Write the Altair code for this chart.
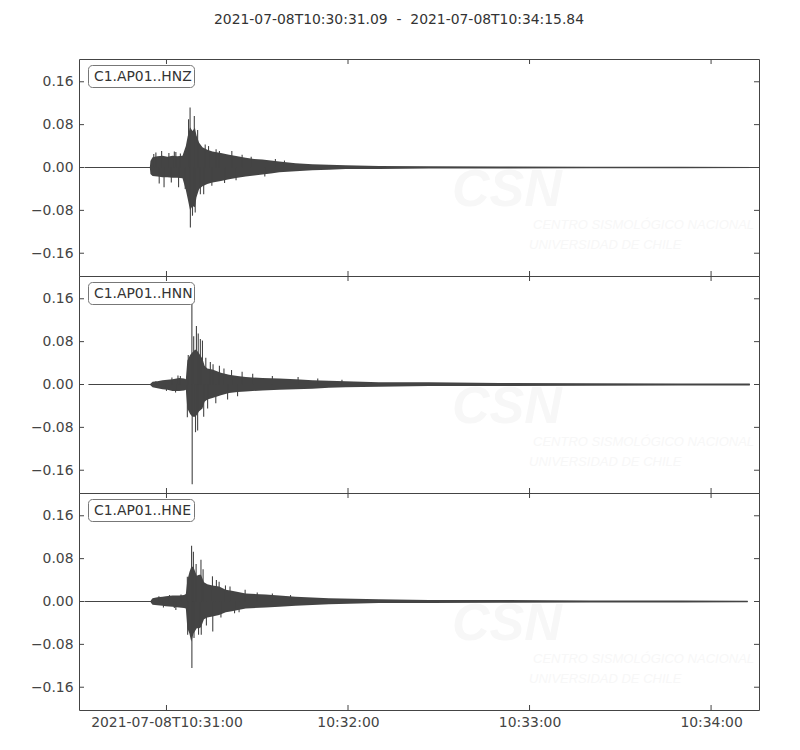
import altair as alt
import pandas as pd

# ---------------- data ----------------
TITLE = "2021-07-08T10:30:31.09\u00a0\u00a0-\u00a0\u00a02021-07-08T10:34:15.84"
BASE_TIME = "2021-07-08T10:30:00Z"          # all times below: seconds after this
X_START, X_END = 31.09, 255.84
X_TICKS = [60, 120, 180, 240]
Y_TICKS = [-0.16, -0.08, 0.0, 0.08, 0.16]
Y_MAX = 0.2025

CHANNELS = ["C1.AP01..HNZ", "C1.AP01..HNN", "C1.AP01..HNE"]
TRACE_START = [32.9, 34.2, 32.9]
TRACE_END = [255.4, 252.8, 252.1]

HNZ_T = [54.5, 54.7, 55.4, 57.0, 58.7, 60.3, 62.0, 63.6, 65.3, 66.4, 67.0, 67.8, 68.6, 69.4, 69.9, 70.8, 71.9,
         73.5, 75.2, 78.0, 80.7, 83.5, 86.2, 89.0, 91.7, 94.5, 97.3, 102.7, 108.2, 113.7, 119.2, 130.2, 146.7,
         170.0, 200.0, 230.0, 255.4]
HNZ_UP = [0.0, 0.012, 0.019, 0.021, 0.022, 0.020, 0.022, 0.021, 0.022, 0.040, 0.058, 0.075, 0.068, 0.074, 0.060,
          0.046, 0.038, 0.033, 0.030, 0.027, 0.024, 0.021, 0.018, 0.016, 0.015, 0.013, 0.011, 0.008, 0.006, 0.005,
          0.004, 0.003, 0.0025, 0.002, 0.0015, 0.0013, 0.001]
HNZ_LO = [0.0, -0.012, -0.016, -0.017, -0.018, -0.018, -0.019, -0.019, -0.020, -0.042, -0.058, -0.080, -0.072,
          -0.074, -0.056, -0.040, -0.035, -0.031, -0.028, -0.025, -0.022, -0.019, -0.017, -0.015, -0.013, -0.011,
          -0.009, -0.007, -0.005, -0.004, -0.003, -0.003, -0.002, -0.002, -0.0015, -0.0013, -0.001]
HNZ_SPIKE_T = [55.8, 56.5, 57.6, 58.4, 59.2, 60.8, 61.6, 62.6, 63.1, 64.0, 64.6, 66.2, 67.3, 67.8, 67.9, 68.6,
               69.2, 69.5, 70.3, 71.2, 72.3, 72.8, 73.9, 75.0, 76.4, 77.5, 79.2, 81.6, 83.0, 85.0, 88.0, 92.5,
               96.0, 99.0]
HNZ_SPIKE_V = [0.025, 0.028, -0.030, 0.031, -0.037, 0.027, -0.028, 0.030, 0.029, -0.037, 0.026, -0.040, 0.090,
               0.112, -0.112, -0.090, 0.096, -0.084, 0.070, -0.050, -0.050, 0.043, 0.040, -0.034, 0.034, 0.031,
               -0.029, 0.031, -0.024, 0.024, 0.020, -0.017, 0.016, 0.013]

HNN_T = [54.6, 55.4, 57.0, 58.7, 60.3, 62.0, 64.2, 65.8, 66.4, 66.9, 67.8, 68.6, 69.4, 69.9, 70.8, 71.9,
         72.6, 73.5, 75.2, 78.0, 80.7, 83.5, 86.2, 91.7, 97.3, 102.7, 108.2, 113.7, 119.2, 130.2, 146.7, 170.0,
         200.0, 230.0, 252.8]
HNN_UP = [0.001, 0.005, 0.006, 0.008, 0.009, 0.010, 0.012, 0.011, 0.010, 0.045, 0.055, 0.060, 0.065, 0.065,
          0.058, 0.048, 0.035, 0.030, 0.028, 0.022, 0.018, 0.016, 0.014, 0.012, 0.011, 0.010, 0.008, 0.007,
          0.006, 0.004, 0.004, 0.003, 0.0025, 0.002, 0.002]
HNN_LO = [-0.001, -0.005, -0.007, -0.009, -0.010, -0.012, -0.012, -0.011, -0.010, -0.045, -0.055, -0.060,
          -0.060, -0.058, -0.050, -0.045, -0.032, -0.028, -0.025, -0.020, -0.016, -0.014, -0.013, -0.011, -0.010,
          -0.009, -0.008, -0.006, -0.005, -0.004, -0.003, -0.003, -0.0025, -0.002, -0.002]
HNN_SPIKE_T = [56.5, 60.0, 61.8, 63.0, 63.8, 64.6, 66.9, 67.2, 68.4, 68.5, 69.0, 69.6, 69.9, 70.3, 70.5, 71.2,
               71.9, 72.3, 73.0, 73.6, 74.5, 75.4, 76.3, 77.5, 79.0, 80.2, 81.5, 83.5, 85.0, 88.5, 95.0, 103.5,
               110.0, 118.0]
HNN_SPIKE_V = [0.006, -0.012, 0.013, -0.015, 0.017, 0.016, -0.061, 0.055, 0.185, -0.186, 0.090, -0.089, 0.109,
               -0.086, 0.095, 0.085, 0.082, -0.060, 0.050, -0.045, 0.042, 0.038, -0.035, 0.035, 0.030, -0.028,
               0.027, -0.022, 0.024, 0.020, 0.016, 0.014, 0.011, 0.009]

HNE_T = [54.8, 55.4, 57.0, 58.7, 59.8, 62.0, 64.2, 65.8, 66.4, 66.9, 67.6, 68.2, 68.9, 70.0, 70.8, 71.4,
         72.4, 73.5, 75.2, 77.4, 79.6, 81.6, 86.2, 92.8, 97.3, 102.7, 113.7, 130.2, 146.7, 170.0, 200.0, 230.0,
         252.1]
HNE_UP = [0.002, 0.006, 0.008, 0.009, 0.010, 0.011, 0.011, 0.012, 0.014, 0.040, 0.055, 0.065, 0.065, 0.048,
          0.050, 0.050, 0.036, 0.032, 0.030, 0.028, 0.022, 0.020, 0.015, 0.013, 0.011, 0.009, 0.006, 0.004,
          0.003, 0.003, 0.002, 0.0018, 0.0015]
HNE_LO = [-0.002, -0.006, -0.007, -0.008, -0.009, -0.010, -0.011, -0.012, -0.013, -0.050, -0.060, -0.075,
          -0.060, -0.050, -0.050, -0.048, -0.033, -0.030, -0.028, -0.025, -0.020, -0.018, -0.013, -0.011, -0.010,
          -0.008, -0.005, -0.003, -0.003, -0.0025, -0.002, -0.0018, -0.0015]
HNE_SPIKE_T = [57.5, 59.0, 61.0, 62.6, 63.1, 64.8, 66.9, 67.0, 68.3, 68.4, 68.9, 69.1, 69.8, 70.6, 71.4, 71.5,
               72.1, 73.2, 75.2, 75.3, 76.5, 77.4, 78.0, 79.5, 81.0, 82.5, 84.0, 86.0, 90.0, 95.0, 101.0]
HNE_SPIKE_V = [0.010, -0.011, 0.012, -0.012, -0.016, 0.013, 0.046, -0.062, 0.104, -0.124, 0.093, -0.068, 0.070,
               -0.062, 0.078, -0.062, 0.060, -0.045, 0.047, -0.056, 0.040, 0.037, -0.030, 0.030, 0.028, -0.022,
               -0.020, 0.022, 0.017, 0.015, 0.012]

ENVELOPES = [(HNZ_T, HNZ_UP, HNZ_LO), (HNN_T, HNN_UP, HNN_LO), (HNE_T, HNE_UP, HNE_LO)]
SPIKES = [(HNZ_SPIKE_T, HNZ_SPIKE_V), (HNN_SPIKE_T, HNN_SPIKE_V), (HNE_SPIKE_T, HNE_SPIKE_V)]

# ---------------- styling ----------------
W, H = 680, 217
FONT = "DejaVu Sans"
FS = 13.9
INK = "#444444"
TRACE = "#444444"
WATER = "#f7f7f7"

BASE_MS = int(pd.Timestamp(BASE_TIME).value // 10**6)


def ms(sec):
    return BASE_MS + sec * 1000.0


xscale = alt.Scale(type="utc", domain=[ms(X_START), ms(X_END)], nice=False)
yscale = alt.Scale(domain=[-Y_MAX, Y_MAX], nice=False, zero=False)


def x_axis(show):
    if not show:
        return None
    return alt.Axis(
        values=[ms(v) for v in X_TICKS], ticks=False, domain=False, grid=False, title=None,
        labelPadding=5, labelFont=FONT, labelFontSize=FS, labelColor=INK, labelOverlap=False,
        labelFlush=False,
        labelExpr="datum.index == 0 ? utcFormat(datum.value, '%Y-%m-%dT%H:%M:%S') : utcFormat(datum.value, '%H:%M:%S')",
    )


y_axis = alt.Axis(values=Y_TICKS, format=".2f", ticks=False, domain=False, grid=False, title=None,
                  labelPadding=6, labelFont=FONT, labelFontSize=FS, labelColor=INK, labelFlush=False)


def panel(i, bottom, top):
    xa = x_axis(bottom)
    T, UP, LO = ENVELOPES[i]
    env = pd.DataFrame({"t": [ms(v) for v in T], "up": UP, "lo": LO})
    st, sv = SPIKES[i]
    spk = pd.DataFrame({"t": [ms(v) for v in st], "v": sv, "z": [0.0] * len(st)})
    base = pd.DataFrame({"ts": [ms(TRACE_START[i])], "te": [ms(TRACE_END[i])], "z": [0.0]})
    xt = pd.DataFrame({"t": [ms(v) for v in X_TICKS]})
    yt = pd.DataFrame({"v": Y_TICKS})
    lab = pd.DataFrame({"label": [CHANNELS[i]]})

    X = lambda f: alt.X(f, type="temporal", scale=xscale, axis=xa)
    Y = lambda f: alt.Y(f, type="quantitative", scale=yscale, axis=y_axis)

    layers = []
    # faint watermark
    wm = pd.DataFrame({"a": ["CSN"]})
    layers.append(alt.Chart(wm).mark_text(text="CSN", font="Liberation Sans", fontWeight="bold", fontStyle="italic",
                                          fontSize=52, color=WATER, align="left", baseline="alphabetic", clip=True)
                  .encode(x=alt.value(373), y=alt.value(147)))
    layers.append(alt.Chart(wm).mark_text(text="CENTRO SISMOLÓGICO NACIONAL", font="Liberation Sans",
                                          fontStyle="italic", fontSize=13, color=WATER, align="left",
                                          baseline="alphabetic", clip=True)
                  .encode(x=alt.value(454), y=alt.value(170)))
    layers.append(alt.Chart(wm).mark_text(text="UNIVERSIDAD DE CHILE", font="Liberation Sans",
                                          fontStyle="italic", fontSize=13, color=WATER, align="left",
                                          baseline="alphabetic", clip=True)
                  .encode(x=alt.value(450), y=alt.value(190)))
    # zero line of the trace
    layers.append(alt.Chart(base).mark_rule(color=TRACE, strokeWidth=1.2)
                  .encode(x=X("ts"), x2="te", y=Y("z")))
    # dense envelope of the trace
    layers.append(alt.Chart(env).mark_area(color=TRACE, opacity=1, interpolate="linear")
                  .encode(x=X("t"), y=Y("up"), y2="lo"))
    # individual peaks
    layers.append(alt.Chart(spk).mark_rule(color=TRACE, strokeWidth=1.1)
                  .encode(x=X("t"), y=Y("z"), y2="v"))
    # inward ticks
    layers.append(alt.Chart(xt).mark_rule(color=INK, strokeWidth=1)
                  .encode(x=X("t"), y=alt.value(0), y2=alt.value(5)))
    layers.append(alt.Chart(xt).mark_rule(color=INK, strokeWidth=1)
                  .encode(x=X("t"), y=alt.value(H - 5), y2=alt.value(H)))
    layers.append(alt.Chart(yt).mark_rule(color=INK, strokeWidth=1)
                  .encode(y=Y("v"), x=alt.value(0), x2=alt.value(5)))
    layers.append(alt.Chart(yt).mark_rule(color=INK, strokeWidth=1)
                  .encode(y=Y("v"), x=alt.value(W - 5), x2=alt.value(W)))
    # channel label box
    layers.append(alt.Chart(lab).mark_rect(fill="white", stroke="#777777", strokeWidth=1, cornerRadius=4)
                  .encode(x=alt.value(9.5), x2=alt.value(115.5), y=alt.value(6.5), y2=alt.value(28.5)))
    layers.append(alt.Chart(lab).mark_text(font=FONT, fontSize=FS, color="#333333", align="left",
                                           baseline="middle")
                  .encode(text="label:N", x=alt.value(15), y=alt.value(17.5)))
    if top:
        tt = pd.DataFrame({"title": [TITLE]})
        layers.append(alt.Chart(tt).mark_text(font=FONT, fontSize=FS, color="#333333", align="center",
                                              baseline="middle")
                      .encode(text="title:N", x=alt.value(W / 2 - 20), y=alt.value(-39)))
    return alt.layer(*layers).properties(width=W, height=H)


chart = alt.vconcat(
    panel(0, False, True), panel(1, False, False), panel(2, True, False),
    spacing=0, bounds="flush", background="white",
    padding={"left": 21, "top": 4, "right": 10, "bottom": 10},
).configure_view(stroke="#444444", strokeWidth=1)

chart.save("out.html", embed_options={"renderer": "svg", "actions": False})
